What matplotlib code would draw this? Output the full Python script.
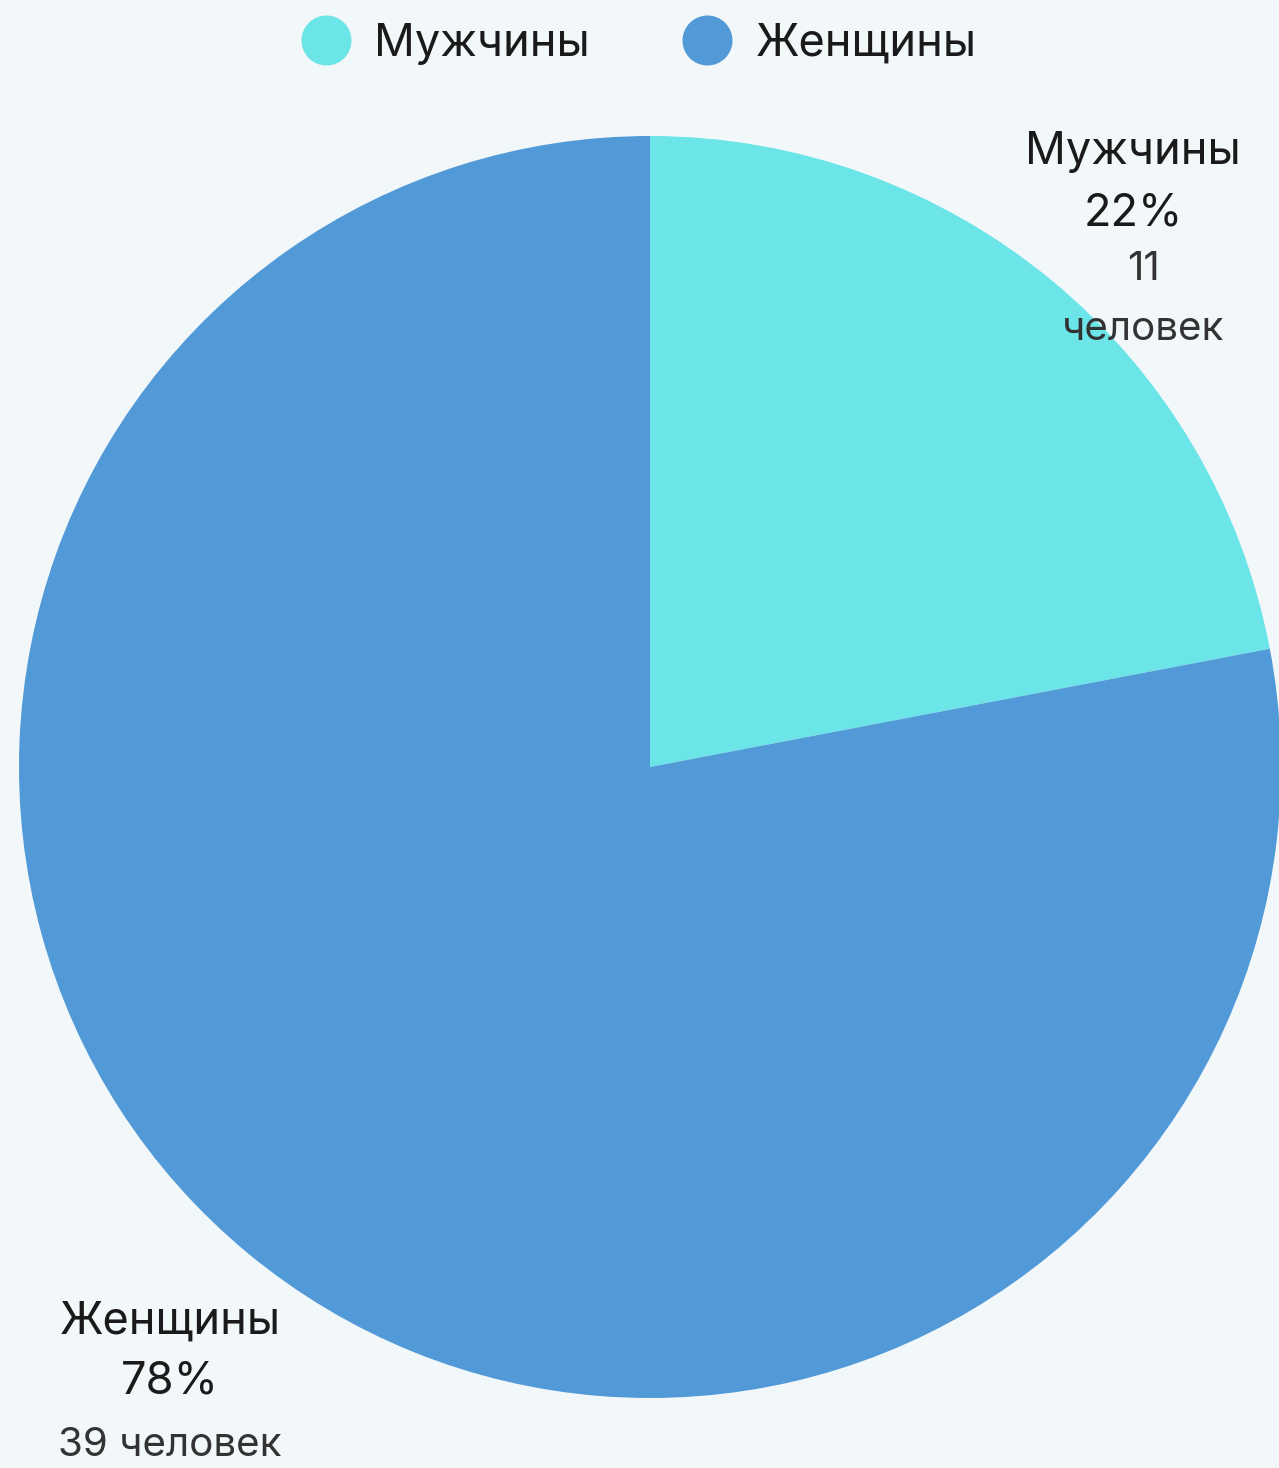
import matplotlib
matplotlib.use("Agg")
import matplotlib.pyplot as plt
from matplotlib.lines import Line2D

categories = ["Мужчины", "Женщины"]
counts = [11, 39]
colors = ["#6be5e8", "#519ad7"]
unit = "человек"

W, H = 1279, 1468
bg = "#f2f7fa"
plt.rcParams['font.family'] = ['Inter', 'DejaVu Sans']

fig = plt.figure(figsize=(W/100, H/100), dpi=100, facecolor=bg)
cx, cy, r = 650, 767, 631
ax = fig.add_axes([(cx-r)/W, (H-cy-r)/H, 2*r/W, 2*r/H])
ax.set_facecolor(bg)
wedges, _ = ax.pie(counts, colors=colors, startangle=90, counterclock=False,
                   radius=1, wedgeprops=dict(linewidth=0))
ax.set_xlim(-1, 1); ax.set_ylim(-1, 1)
ax.set_aspect('equal')
ax.axis('off')

total = sum(counts)
pcts = [round(c/total*100) for c in counts]

def ftext(x, y, s, size, color="#1a1a1a"):
    fig.text(x/W, 1-y/H, s, ha='center', va='center', fontsize=size, color=color)

# Men label
ftext(1133, 152, categories[0], 32.5)
ftext(1133, 214, f"{pcts[0]}%", 32.5)
ftext(1143, 270, f"{counts[0]}", 29, "#333333")
ftext(1143, 330, unit, 29, "#333333")
# Women label
ftext(170, 1322, categories[1], 32.5)
ftext(170, 1382, f"{pcts[1]}%", 32.5)
ftext(170, 1445, f"{counts[1]} {unit}", 29, "#333333")

handles = [Line2D([], [], marker='o', linestyle='', markersize=36,
                  markerfacecolor=c, markeredgewidth=0) for c in colors]
leg = fig.legend(handles, categories, loc='center', bbox_to_anchor=(640/W, 1-44/H),
                 ncol=2, frameon=False, fontsize=32.5, handletextpad=0.57,
                 columnspacing=2.1, handlelength=1.0)
for t in leg.get_texts():
    t.set_color("#1a1a1a")

fig.savefig("out.png", dpi=100, facecolor=bg)
